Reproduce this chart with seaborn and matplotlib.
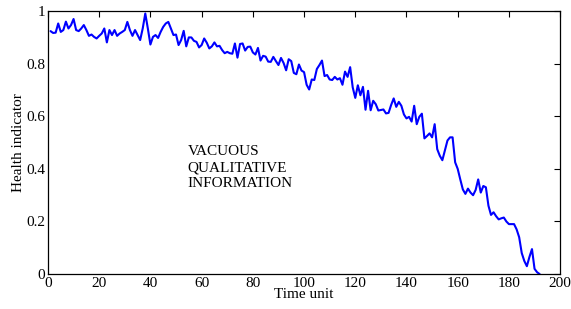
import numpy as np
import pandas as pd
import seaborn as sns
import matplotlib
matplotlib.use("Agg")
import matplotlib.pyplot as plt

# health indicator, one value per time unit (t = 1..192)
health = [
    0.924, 0.917, 0.918, 0.953, 0.921, 0.928, 0.960, 0.934, 0.947, 0.970,
    0.928, 0.924, 0.934, 0.947, 0.928, 0.906, 0.911, 0.902, 0.896, 0.906,
    0.915, 0.934, 0.881, 0.928, 0.909, 0.928, 0.906, 0.915, 0.921, 0.928,
    0.959, 0.928, 0.906, 0.928, 0.909, 0.890, 0.934, 0.991, 0.934, 0.873,
    0.902, 0.909, 0.898, 0.921, 0.940, 0.953, 0.959, 0.934, 0.909, 0.911,
    0.871, 0.890, 0.925, 0.866, 0.900, 0.900, 0.887, 0.883, 0.862, 0.871,
    0.896, 0.880, 0.858, 0.866, 0.881, 0.866, 0.868, 0.852, 0.840, 0.845,
    0.840, 0.838, 0.877, 0.823, 0.875, 0.877, 0.850, 0.864, 0.865, 0.843,
    0.835, 0.860, 0.812, 0.830, 0.827, 0.808, 0.807, 0.826, 0.810, 0.795,
    0.822, 0.803, 0.775, 0.817, 0.810, 0.765, 0.760, 0.797, 0.774, 0.768,
    0.720, 0.702, 0.740, 0.738, 0.780, 0.795, 0.812, 0.753, 0.757, 0.740,
    0.738, 0.750, 0.740, 0.745, 0.720, 0.770, 0.750, 0.787, 0.710, 0.670,
    0.718, 0.680, 0.712, 0.625, 0.697, 0.623, 0.659, 0.646, 0.622, 0.624,
    0.626, 0.611, 0.613, 0.643, 0.668, 0.636, 0.655, 0.640, 0.607, 0.592,
    0.598, 0.580, 0.640, 0.570, 0.598, 0.610, 0.516, 0.525, 0.535, 0.520,
    0.570, 0.475, 0.450, 0.433, 0.470, 0.508, 0.520, 0.520, 0.425, 0.400,
    0.360, 0.322, 0.305, 0.325, 0.310, 0.300, 0.320, 0.360, 0.310, 0.335,
    0.330, 0.260, 0.225, 0.235, 0.220, 0.208, 0.212, 0.215, 0.200, 0.190,
    0.190, 0.190, 0.170, 0.140, 0.080, 0.050, 0.030, 0.065, 0.095, 0.020,
    0.007, 0.000,
]
time = list(range(1, len(health) + 1))
xticks = [0, 20, 40, 60, 80, 100, 120, 140, 160, 180, 200]
yticks = [0, 0.2, 0.4, 0.6, 0.8, 1]
ytick_labels = ["0", "0.2", "0.4", "0.6", "0.8", "1"]

df = pd.DataFrame({"Time unit": time, "Health indicator": health})

sns.set_theme(style="white")
plt.rcParams["font.family"] = ["Liberation Serif", "DejaVu Serif"]

fig = plt.figure(figsize=(5.71, 3.09), dpi=100)
ax = fig.add_axes([0.084, 0.113, 0.897, 0.851])

sns.lineplot(data=df, x="Time unit", y="Health indicator", color="#0000ff",
             linewidth=1.5, ax=ax)

ax.set_xlim(0, 200)
ax.set_ylim(0, 1)
ax.set_xticks(xticks)
ax.set_xticklabels([str(t) for t in xticks])
ax.set_yticks(yticks)
ax.set_yticklabels(ytick_labels)
ax.tick_params(direction="in", length=4, width=0.8, top=True, right=True,
               labelsize=11, colors="black", pad=2)
for s in ax.spines.values():
    s.set_color("black")
    s.set_linewidth(0.9)
ax.set_xlabel("Time unit", fontsize=11, labelpad=-1, color="black")
ax.set_ylabel("Health indicator", fontsize=11, labelpad=1, color="black")

ax.text(54.5, 0.49, "VACUOUS\nQUALITATIVE\nINFORMATION", fontsize=11,
        va="top", ha="left", linespacing=1.3, color="black")

fig.savefig("out.png", dpi=100)
